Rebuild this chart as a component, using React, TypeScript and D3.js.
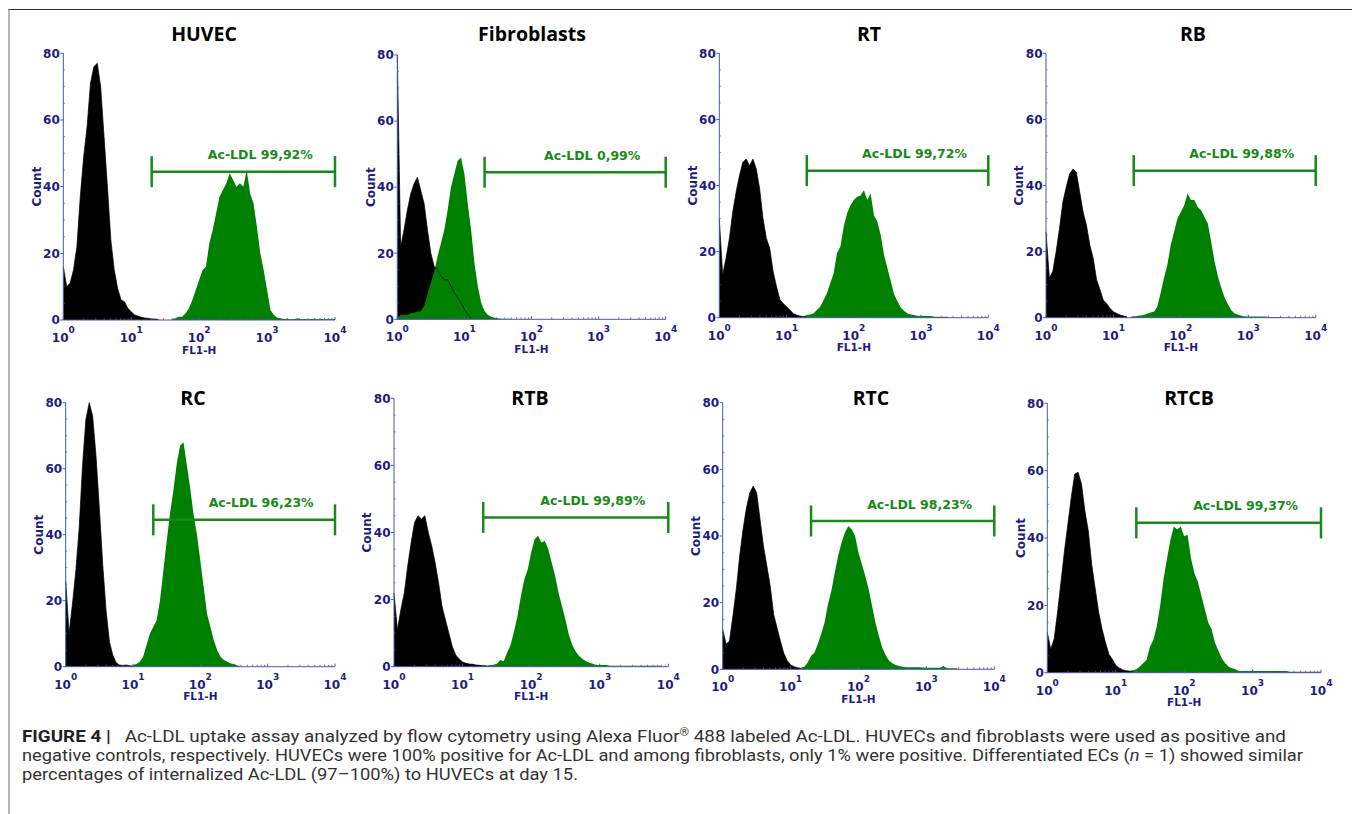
import React from 'react';
import * as d3 from 'd3';

// Panel titles and gate results
const titles = ['HUVEC', 'Fibroblasts', 'RT', 'RB', 'RC', 'RTB', 'RTC', 'RTCB'];
const gatePercents = ['99,92%', '0,99%', '99,72%', '99,88%', '96,23%', '99,89%', '98,23%', '99,37%'];
const gateFrom = 20;
const gateTo = 10000;
const gateCount = 44.5;

// histogram bins are 0.05 decades wide (log10 of FL1-H)
const binStep = 0.05;
// log10 of the first bin of each Ac-LDL histogram (controls start at 10^0)
const acLdlStart = [1.6, 0, 1.2, 1.25, 1.0, 1.35, 1.15, 1.2];

const huvecCtrl = [16, 10, 11, 15, 22, 37, 49, 58, 71, 76, 77, 70, 55, 40, 24, 15, 9.5, 6, 5.5, 3.5, 2.5, 1.5, 1.2, 0.8, 0.6, 0.5, 0.3, 0.3, 0.2];
const huvecAcLdl = [0.3, 0.5, 1, 1, 2, 3.5, 6, 9, 12, 15, 16, 23, 27, 32, 37, 39, 41, 44, 42, 40, 41, 40, 45, 38, 35, 28, 20, 15, 9, 3, 1.5, 0.7, 0.5, 0.3, 0.4, 0.2, 0.3, 0.5, 0.2, 0.3, 0.2, 0.3, 0.4, 0.2, 0.3, 0.2, 0.3, 0.2, 0.3];
const fibroCtrl = [84, 22, 27, 33, 38, 41, 43, 39, 35, 27, 20, 16, 15, 13, 12, 12, 10, 8, 6.5, 5, 3, 1.5, 0.3];
const fibroAcLdl = [0.5, 1.3, 1.3, 1.3, 1.8, 2, 2.3, 2.5, 4, 7.5, 11, 14.5, 19, 23, 27, 33, 40, 44, 48, 49, 44, 35, 27, 17, 10, 5, 2.5, 1.3, 0.8, 0.5, 0.3, 0.2, 0.1, 0.2, 0.1];
const rtCtrl = [30, 13, 18, 24, 32, 38, 43, 47, 48, 46, 48, 45, 39, 30, 24, 21, 14, 9.5, 5.5, 4.3, 3.3, 2.3, 1.3, 0.8, 0.5, 0.3, 0.2];
const rtAcLdl = [0.2, 0.4, 0.8, 1, 1.3, 2.3, 3.3, 5.3, 7.4, 10.4, 13.4, 19.5, 21.5, 27.5, 31.6, 34, 35.6, 36.6, 37, 38.6, 35.6, 37.6, 31, 29, 25, 19, 15, 11, 7, 5, 3, 2, 1.3, 1, 0.8, 0.5, 0.5, 0.5, 0.5, 0.5, 0.3, 0.3, 0.3, 0.3, 0.3];
const rbCtrl = [26, 12, 14, 20, 27, 35, 39.5, 43.5, 45, 44, 38, 32, 28, 22, 18, 11.5, 8.5, 5.3, 4.3, 2.8, 1.8, 1.3, 0.8, 0.5, 0.3];
const rbAcLdl = [0.3, 0.4, 0.5, 0.7, 0.8, 1.2, 1.6, 1.8, 3.3, 7.5, 12, 16, 22, 26, 30, 32, 34, 37.6, 35.6, 35.6, 33.5, 32.5, 30.5, 28.5, 23, 17, 12.5, 9, 6, 4, 2.2, 1.3, 0.9, 0.6, 0.4, 0.4, 0.4, 0.4, 0.4, 0.4, 0.4, 0.2, 0.2, 0.2, 0.2, 0.2];
const rcCtrl = [26, 10, 19, 29, 42, 61, 75, 80, 76, 64, 48, 31, 17, 7.5, 3.5, 1.2, 0.5, 0.4, 0.5, 0.3, 0.2];
const rcAcLdl = [0.5, 0.8, 1.5, 3, 6.5, 10, 12, 14, 20, 29, 38, 46.5, 53.5, 61.6, 67, 68, 61, 54, 46, 40, 32, 24, 16, 12, 8, 5, 3, 2, 1.5, 1, 0.8, 0.4, 0.2];
const rtbCtrl = [22, 11, 17, 22, 30, 37, 43, 45, 44, 45, 40, 36, 31, 25, 18, 14, 10, 6, 3.5, 2.3, 1.4, 1, 0.8, 0.7, 0.5, 0.4, 0.3, 0.3];
const rtbAcLdl = [0.3, 0.5, 0.6, 0.9, 2, 1.6, 4.2, 6.5, 10.5, 15, 21, 26, 29, 34, 38, 39, 37, 37.5, 35, 31, 27, 22, 18, 14, 9.5, 6.5, 4.5, 3.2, 2.3, 1.6, 1.2, 0.9, 0.5, 0.5, 0.5, 0.5, 0.25, 0.25, 0.25, 0.25, 0.25, 0.25, 0.25, 0.25, 0.25, 0.25, 0.25, 0.25, 0.25, 0.25, 0.25, 0.25];
const rtcCtrl = [12, 7.5, 8.5, 16, 24, 34, 42, 48.5, 53, 55, 53, 45, 37, 31, 25, 16.5, 12.5, 8.5, 4.8, 2.6, 1.3, 0.8, 0.5, 0.3];
const rtcAcLdl = [0.5, 0.8, 2, 4, 5, 7.5, 10.5, 14, 19.5, 23.5, 29, 34, 38, 41, 43, 42, 40, 35, 31.5, 28, 24, 19, 14, 10, 6.5, 4.2, 2.6, 1.8, 1.3, 1, 0.8, 0.6, 0.6, 0.6, 0.6, 0.6, 0.5, 0.5, 0.5, 0.5, 0.5, 0.5, 1, 0.3, 0.3, 0.3, 0.3];
const rtcbCtrl = [12, 7, 10, 18, 27, 36, 44, 52, 59, 59.5, 56, 48, 42, 32, 25, 18, 13, 9, 5.5, 4, 2.2, 1.4, 0.9, 0.6, 0.5, 0.3];
const rtcbAcLdl = [0.5, 0.7, 1, 1.8, 2.8, 3.8, 7.7, 9.7, 13.7, 20, 28, 34, 39.5, 43.4, 42.5, 43.4, 40.5, 41, 34, 29.5, 27, 23, 19, 15, 13, 9, 6.5, 4.3, 2.8, 1.8, 1.3, 1, 0.5, 0.5, 0.5, 0.5, 0.5, 0.5, 0.5, 0.5, 0.5, 0.5, 0.5, 0.5, 0.5, 0.5, 0.5, 0.3, 0.3, 0.3, 0.3, 0.3, 0.3, 0.3, 0.3, 0.3, 0.3];

const controls = [huvecCtrl, fibroCtrl, rtCtrl, rbCtrl, rcCtrl, rtbCtrl, rtcCtrl, rtcbCtrl];
const acLdl = [huvecAcLdl, fibroAcLdl, rtAcLdl, rbAcLdl, rcAcLdl, rtbAcLdl, rtcAcLdl, rtcbAcLdl];

const xTicks = [1, 10, 100, 1000, 10000];
const yTicks = [0, 20, 40, 60, 80];

// panel placement (pixels)
const panelLeft = [63.3, 397.3, 719.3, 1046, 65.7, 394, 722.7, 1047.3];
const panelRight = [335, 665.7, 988.3, 1315.7, 335, 668.3, 994.3, 1321];
const panelTop = [53.3, 55, 53.3, 53.3, 402.7, 398.3, 402.7, 403.3];
const panelBottom = [320, 319.3, 317.7, 317.7, 666.7, 666.7, 669.3, 672.7];
const titleX = [204, 532, 869, 1193, 193, 530, 871, 1189];
const titleY = [40.5, 40.5, 40.5, 40.5, 405, 405, 405, 405];

const NAVY = '#1c1c84';
const AXIS = '#4a58a8';
const GREEN = '#008000';
const GATE = '#188a18';
const tickFont = "'DejaVu Sans', Verdana, sans-serif";

const Panel = ({ i }: { i: number }) => {
  const x = d3.scaleLog().domain([1, 10000]).range([panelLeft[i], panelRight[i]]);
  const y = d3.scaleLinear().domain([0, 80]).range([panelBottom[i], panelTop[i]]).clamp(true);

  const toPts = (counts: number[], start: number) =>
    counts.map((c, k) => [start + k * binStep, c] as [number, number]);
  const ctrl = toPts(controls[i], 0);
  const pos = toPts(acLdl[i], acLdlStart[i]);

  const area = d3.area<[number, number]>()
    .x(d => x(Math.pow(10, d[0])))
    .y0(y(0))
    .y1(d => y(d[1]));
  const line = d3.line<[number, number]>()
    .x(d => x(Math.pow(10, d[0])))
    .y(d => y(d[1]));

  const minor: number[] = [];
  for (let k = 0; k < 4; k++) for (let m = 2; m < 10; m++) minor.push(m * Math.pow(10, k));
  const yMinor = d3.range(0, 81, 5);

  const gx0 = x(gateFrom), gx1 = x(gateTo), gy = y(gateCount);
  const midY = (y(0) + y(80)) / 2;

  return (
    <g>
      <text x={titleX[i]} y={titleY[i]} textAnchor="middle" fontFamily="'Open Sans', sans-serif"
        fontWeight={700} fontSize={19.5} fill="#000">{titles[i]}</text>

      {/* histograms */}
      <path d={area(ctrl) || ''} fill="#000" />
      <path d={area(pos) || ''} fill={GREEN} />
      <path d={line(ctrl) || ''} fill="none" stroke="#000" strokeWidth={0.7} />

      {/* axes */}
      <line x1={x(1)} x2={x(1)} y1={y(80)} y2={y(0)} stroke={AXIS} strokeWidth={1} />
      <line x1={x(1)} x2={x(10000)} y1={y(0)} y2={y(0)} stroke={AXIS} strokeWidth={1} />
      {minor.map(v => (
        <line key={'m' + v} x1={x(v)} x2={x(v)} y1={y(0)} y2={y(0) - 2} stroke={AXIS} strokeWidth={0.8} />
      ))}
      {xTicks.map(v => (
        <line key={'t' + v} x1={x(v)} x2={x(v)} y1={y(0)} y2={y(0) - 3} stroke={AXIS} strokeWidth={1} />
      ))}
      {yMinor.map(v => (
        <line key={'ym' + v} x1={x(1)} x2={x(1) + (v % 20 === 0 ? 0 : 1.5)} y1={y(v)} y2={y(v)} stroke={AXIS} strokeWidth={0.8} />
      ))}
      {yTicks.map(v => (
        <g key={'y' + v}>
          <line x1={x(1) - 3} x2={x(1)} y1={y(v)} y2={y(v)} stroke={AXIS} strokeWidth={1} />
          <text x={x(1) - 3.5} y={y(v)} dy="0.36em" textAnchor="end" fontFamily={tickFont}
            fontWeight={700} fontSize={12} fill={NAVY}>{v}</text>
        </g>
      ))}
      {xTicks.map((v, k) => (
        <text key={'xl' + v} x={x(v)} y={y(0) + 22} textAnchor="middle" fontFamily={tickFont}
          fontWeight={700} fontSize={12} fill={NAVY}>
          10<tspan dy={-9} fontSize={9}>{k}</tspan>
        </text>
      ))}
      <text x={x(100)} y={y(0) + 33.5} textAnchor="middle" fontFamily={tickFont}
        fontWeight={700} fontSize={10.5} fill={NAVY}>FL1-H</text>
      <text transform={`translate(${x(1) - 27},${midY}) rotate(-90)`} textAnchor="middle" dy="0.36em"
        fontFamily={tickFont} fontWeight={700} fontSize={12} fill={NAVY}>Count</text>

      {/* gate */}
      <line x1={gx0} x2={gx1} y1={gy} y2={gy} stroke={GATE} strokeWidth={2.5} />
      <line x1={gx0} x2={gx0} y1={gy - 15.5} y2={gy + 15.5} stroke={GATE} strokeWidth={2.5} />
      <line x1={gx1} x2={gx1} y1={gy - 15.5} y2={gy + 15.5} stroke={GATE} strokeWidth={2.5} />
      <text x={(gx0 + gx1) / 2 + 17} y={gy - 12.5} textAnchor="middle" fontFamily={tickFont}
        fontWeight={700} fontSize={12.5} fill={GATE}>{'Ac-LDL ' + gatePercents[i]}</text>
    </g>
  );
};

const captionFont = "'Liberation Sans Narrow', 'Roboto', sans-serif";

export default function App() {
  return (
    <svg width={1352} height={814} style={{ position: 'absolute', left: 0, top: 0, background: '#fff' }}>
      <rect x={0} y={0} width={1352} height={814} fill="#fff" />
      <line x1={8} x2={1352} y1={9.5} y2={9.5} stroke="#333" strokeWidth={1.2} />
      <line x1={9} x2={9} y1={9} y2={814} stroke="#888" strokeWidth={1.2} />
      {titles.map((_, i) => <Panel key={i} i={i} />)}

      <text x={22} y={742} fontFamily={captionFont} fontSize={17} fill="#333" textLength={1264} lengthAdjust="spacingAndGlyphs">
        <tspan fontWeight={700} fill="#222">{'FIGURE 4 |'}</tspan>
        <tspan>{'\u00a0\u00a0\u00a0Ac-LDL uptake assay analyzed by flow cytometry using Alexa Fluor'}</tspan>
        <tspan dy={-6} fontSize={11}>®</tspan>
        <tspan dy={6}>{' 488 labeled Ac-LDL. HUVECs and fibroblasts were used as positive and'}</tspan>
      </text>
      <text x={22} y={761} fontFamily={captionFont} fontSize={17} fill="#333" textLength={1281} lengthAdjust="spacingAndGlyphs">
        <tspan>{'negative controls, respectively. HUVECs were 100% positive for Ac-LDL and among fibroblasts, only 1% were positive. Differentiated ECs ('}</tspan>
        <tspan fontStyle="italic">n</tspan>
        <tspan>{' = 1) showed similar'}</tspan>
      </text>
      <text x={22} y={780} fontFamily={captionFont} fontSize={17} fill="#333" textLength={556} lengthAdjust="spacingAndGlyphs">
        percentages of internalized Ac-LDL (97–100%) to HUVECs at day 15.
      </text>
    </svg>
  );
}
